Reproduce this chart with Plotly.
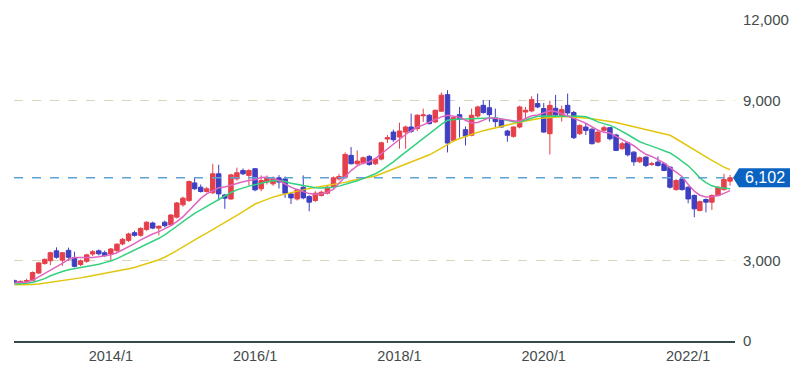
import plotly.graph_objects as go
import pandas as pd

# ---------------- data (monthly candles, 2012/9 - 2022/8) ----------------
months = pd.date_range("2012-09-01", periods=120, freq="MS")

open_ = [2250, 2180, 2230, 2260, 2540, 2900, 3000, 3370, 3020, 3390, 3120, 2860,
         2980, 3250, 3370, 3300, 3250, 3380, 3630, 3760, 4050, 3950, 4170, 4410,
         4220, 4440, 4340, 4630, 5090, 5250, 5910, 5750, 5590, 5540, 6250, 5460,
         5310, 6060, 6375, 6190, 6440, 5690, 5940, 5875, 6100, 6060, 5500, 5310,
         5750, 5400, 5250, 5440, 5525, 5775, 6060, 6125, 6940, 6625, 6650, 6900,
         6625, 6800, 7550, 7810, 7625, 7810, 8000, 7940, 8420, 8440, 8190, 8590,
         9210, 7500, 8460, 7900, 7690, 8410, 8810, 8720, 8330, 8275, 7850, 7650,
         8000, 8560, 8600, 8875, 8690, 7750, 8700, 8400, 8810, 8540, 7750, 8000,
         7920, 7440, 7875, 7975, 7700, 7190, 7410, 7060, 6700, 6875, 6600, 6690,
         6625, 6500, 5660, 6060, 5750, 5440, 4875, 5290, 5190, 5440, 5660, 5975]
high = [2290, 2260, 2330, 2600, 2960, 3090, 3340, 3500, 3330, 3490, 3340, 3050,
        3260, 3400, 3420, 3380, 3480, 3650, 3850, 4050, 4120, 4250, 4480, 4460,
        4320, 4500, 4750, 5200, 5400, 6000, 6130, 5850, 5760, 6625, 6590, 5500,
        6250, 6480, 6450, 6420, 6460, 6190, 6190, 6150, 6200, 6150, 5560, 5700,
        6190, 5450, 5600, 5620, 5800, 6150, 6250, 7050, 7250, 7125, 6900, 6950,
        6850, 7450, 7700, 7900, 8160, 8050, 8500, 8480, 8690, 8480, 8650, 9290,
        9375, 8400, 8750, 8020, 8690, 8800, 9000, 9000, 8690, 8300, 7900, 8020,
        8800, 8750, 9150, 9250, 8900, 8990, 9200, 8800, 9250, 8600, 8100, 8150,
        7950, 7850, 8050, 8000, 7750, 7450, 7450, 7100, 6900, 6900, 6700, 6900,
        6650, 6520, 6050, 6100, 5780, 5480, 5250, 5330, 5480, 5780, 6250, 6210]
low = [2150, 2140, 2190, 2230, 2500, 2850, 2840, 3080, 2810, 3000, 2750, 2800,
       2920, 3180, 3200, 3150, 3000, 3300, 3580, 3700, 3900, 3900, 4120, 4180,
       3950, 4250, 4300, 4580, 5020, 5200, 5650, 5550, 5550, 5500, 5250, 4940,
       5280, 6000, 6200, 5810, 5600, 5600, 5850, 5800, 5700, 5350, 5125, 5250,
       5300, 4850, 5200, 5400, 5480, 5700, 6000, 6080, 6600, 6580, 6600, 6550,
       6580, 6750, 7400, 7450, 7190, 7190, 7780, 7850, 8190, 8100, 8150, 8560,
       7050, 7450, 7600, 7310, 7650, 8350, 8500, 8200, 8000, 7980, 7450, 7600,
       7950, 8300, 8550, 8700, 7780, 6975, 8400, 8200, 8450, 7550, 7700, 7700,
       7350, 7400, 7800, 7500, 7100, 7150, 6900, 6550, 6650, 6500, 6550, 6520,
       6350, 5700, 5620, 5620, 5150, 4625, 4850, 4810, 4900, 5400, 5620, 5810]
close = [2180, 2230, 2260, 2560, 2920, 3050, 3300, 3130, 3300, 3130, 2790, 3000,
         3220, 3340, 3260, 3190, 3440, 3620, 3800, 4000, 3950, 4210, 4440, 4220,
         4290, 4310, 4710, 5160, 5340, 5960, 5690, 5590, 5690, 6250, 5500, 5340,
         6210, 6290, 6250, 6375, 5650, 6000, 6100, 6060, 5940, 5525, 5350, 5650,
         5350, 5190, 5525, 5560, 5750, 6100, 6150, 6975, 6625, 6725, 6850, 6600,
         6800, 7410, 7600, 7525, 7850, 8000, 7840, 8440, 8450, 8125, 8625, 9190,
         7400, 8350, 8290, 7660, 8440, 8750, 8540, 8460, 8200, 8000, 7690, 8000,
         8750, 8625, 9025, 8750, 7810, 8810, 8450, 8650, 8525, 7600, 8060, 7870,
         7375, 7810, 7975, 7560, 7125, 7375, 6960, 6700, 6850, 6560, 6625, 6560,
         6375, 5750, 6000, 5660, 5310, 4940, 5210, 5190, 5440, 5750, 6040, 6102]

# moving-average lines
ma_short = [2190, 2195, 2200, 2270, 2400, 2510, 2625, 2760, 2900, 3050, 3120, 3120,
            3110, 3120, 3150, 3180, 3220, 3300, 3400, 3520, 3640, 3780, 3900, 4000,
            4090, 4190, 4310, 4460, 4640, 4880, 5110, 5330, 5500, 5620, 5730, 5760,
            5830, 5890, 5950, 6000, 6040, 6110, 6120, 6080, 6000, 5870, 5750, 5660,
            5580, 5510, 5490, 5500, 5560, 5680, 5900, 6150, 6370, 6550, 6650, 6700,
            6820, 7000, 7190, 7360, 7540, 7720, 7860, 7990, 8080, 8180, 8280, 8380,
            8440, 8410, 8370, 8250, 8150, 8170, 8260, 8350, 8330, 8290, 8270, 8230,
            8220, 8310, 8420, 8450, 8520, 8610, 8580, 8500, 8420, 8330, 8240, 8140,
            8010, 7880, 7800, 7780, 7650, 7530, 7430, 7300, 7130, 6980, 6900, 6780,
            6660, 6480, 6300, 6150, 5850, 5600, 5450, 5380, 5390, 5440, 5520, 5620]
ma_mid = [2130, 2140, 2160, 2190, 2250, 2330, 2440, 2530, 2600, 2660, 2700, 2740,
          2780, 2820, 2870, 2930, 2990, 3080, 3180, 3290, 3400, 3500, 3600, 3720,
          3840, 3970, 4120, 4290, 4460, 4630, 4770, 4900, 5030, 5170, 5300, 5430,
          5550, 5650, 5730, 5790, 5840, 5900, 5960, 6000, 5990, 5960, 5900, 5850,
          5800, 5760, 5730, 5720, 5730, 5750, 5790, 5850, 5910, 5990, 6070, 6150,
          6250, 6380, 6530, 6700, 6880, 7060, 7230, 7400, 7560, 7750, 7940, 8100,
          8250, 8280, 8300, 8300, 8310, 8330, 8350, 8360, 8350, 8300, 8240, 8200,
          8190, 8250, 8330, 8400, 8410, 8410, 8420, 8420, 8410, 8400, 8400, 8380,
          8300, 8190, 8120, 8060, 7960, 7850, 7720, 7580, 7450, 7360, 7290, 7200,
          7110, 7030, 6880, 6720, 6550, 6330, 6100, 5920, 5800, 5740, 5710, 5690]
ma_long = [2100, 2100, 2105, 2110, 2130, 2160, 2190, 2220, 2250, 2290, 2330, 2360,
           2400, 2440, 2480, 2520, 2560, 2600, 2650, 2700, 2750, 2820, 2890, 2960,
           3040, 3130, 3250, 3380, 3520, 3660, 3790, 3910, 4030, 4160, 4300, 4430,
           4560, 4700, 4840, 4990, 5120, 5210, 5300, 5380, 5440, 5500, 5550, 5600,
           5650, 5700, 5740, 5770, 5800, 5840, 5880, 5930, 5990, 6040, 6080, 6120,
           6170, 6250, 6340, 6430, 6520, 6600, 6690, 6770, 6850, 6960, 7080, 7220,
           7350, 7470, 7570, 7650, 7730, 7800, 7860, 7920, 7980, 8040, 8080, 8130,
           8180, 8230, 8270, 8310, 8340, 8360, 8370, 8380, 8380, 8375, 8360, 8340,
           8310, 8280, 8250, 8220, 8170, 8110, 8060, 8010, 7950, 7900, 7850, 7790,
           7740, 7690, 7560, 7420, 7280, 7150, 7010, 6880, 6750, 6620, 6500, 6400]

last_price = 6102
last_price_text = "6,102"

x_tick_vals = ["2014-01-01", "2016-01-01", "2018-01-01", "2020-01-01", "2022-01-01"]
x_tick_text = ["2014/1", "2016/1", "2018/1", "2020/1", "2022/1"]
y_tick_vals = [0, 3000, 9000, 12000]
y_tick_text = ["0", "3,000", "9,000", "12,000"]

# ---------------- figure ----------------
UP = "#e5404a"
DOWN = "#3f3fc2"
TEXT = "#434b4b"

fig = go.Figure()
fig.add_trace(go.Candlestick(
    x=months, open=open_, high=high, low=low, close=close,
    increasing=dict(line=dict(color=UP, width=1), fillcolor=UP),
    decreasing=dict(line=dict(color=DOWN, width=1), fillcolor=DOWN),
    whiskerwidth=0, showlegend=False, hoverinfo="skip",
))
fig.add_trace(go.Scatter(x=months, y=ma_long, mode="lines",
                         line=dict(color="#e2c60e", width=1.5),
                         showlegend=False, hoverinfo="skip"))
fig.add_trace(go.Scatter(x=months, y=ma_mid, mode="lines",
                         line=dict(color="#33d17f", width=1.5),
                         showlegend=False, hoverinfo="skip"))
fig.add_trace(go.Scatter(x=months, y=ma_short, mode="lines",
                         line=dict(color="#e064c0", width=1.5),
                         showlegend=False, hoverinfo="skip"))

# last price dashed line
fig.add_shape(type="line", xref="paper", x0=0, x1=1, yref="y",
              y0=last_price, y1=last_price,
              line=dict(color="#5fa3d6", width=1.5, dash="dash"), layer="above")
# price tag
fig.add_shape(type="path", xref="paper", yref="y",
              xsizemode="pixel", ysizemode="pixel",
              xanchor=1, yanchor=last_price,
              path="M -2,0 L 4,9.5 L 55,9.5 L 55,-9.5 L 4,-9.5 Z",
              fillcolor="#0b63c1", line=dict(width=0), layer="above")
fig.add_annotation(xref="paper", yref="y", x=1, y=last_price,
                   text=last_price_text, showarrow=False,
                   xanchor="center", xshift=30, yshift=0,
                   font=dict(family="Arial", size=16, color="#ffffff"))

fig.update_layout(
    width=811, height=376,
    margin=dict(l=14, r=76, t=20, b=35),
    paper_bgcolor="#ffffff", plot_bgcolor="#ffffff",
    font=dict(family="Arial", size=14, color=TEXT),
    showlegend=False,
    boxgap=0.1, boxgroupgap=0.1,
    xaxis=dict(
        type="date", range=["2012-08-29", "2022-08-26"],
        rangeslider=dict(visible=False), automargin=False,
        tickmode="array", tickvals=x_tick_vals, ticktext=x_tick_text,
        showgrid=False, zeroline=False,
        showline=True, linecolor="#34494a", linewidth=2,
        ticks="outside", ticklen=1, tickcolor="rgba(0,0,0,0)",
        tickfont=dict(size=14.5, color=TEXT),
    ),
    yaxis=dict(
        side="right", range=[0, 12000], automargin=False,
        tickmode="array", tickvals=y_tick_vals, ticktext=y_tick_text,
        showgrid=True, gridcolor="#d4d9bd", griddash="dash", gridwidth=1,
        zeroline=False, showline=False,
        ticks="outside", ticklen=4, tickcolor="rgba(0,0,0,0)",
        tickfont=dict(size=15, color=TEXT),
    ),
)

fig.write_html("out.html", config={"displayModeBar": False},
               post_script="document.body.style.margin='0px';")
